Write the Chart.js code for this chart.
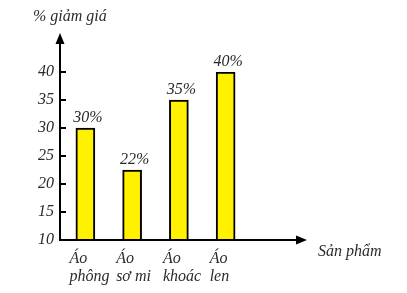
<!DOCTYPE html>
<html>
<head>
<meta charset="utf-8">
<script src="https://cdn.jsdelivr.net/npm/chart.js@4"></script>
<style>
  html, body { margin: 0; padding: 0; background: #fff; }
  #wrap { width: 407px; height: 293px; }
</style>
</head>
<body>
<div id="wrap"><canvas id="out"></canvas></div>
<script>
const categories = [["Áo", "phông"], ["Áo", "sơ mi"], ["Áo", "khoác"], ["Áo", "len"]];
const discount = [30, 22.5, 35, 40];
const discountLabels = ["30%", "22%", "35%", "40%"];
const yTicks = [10, 15, 20, 25, 30, 35, 40];

const textColor = "#2b2b2b";
const serif = "'Liberation Serif', 'DejaVu Serif', serif";

// axes with arrows, inner tick marks, bar value labels, x axis name
const axisArrows = {
	id: "axisArrows",
	afterDatasetsDraw(chart) {
		const ctx = chart.ctx;
		const area = chart.chartArea;
		const yScale = chart.scales.y;
		const ax = area.left - 2;
		const ay = yScale.getPixelForValue(yTicks[0]);
		const topY = area.top - 39;
		const rightX = area.right + 58;

		ctx.save();
		ctx.strokeStyle = "#000";
		ctx.fillStyle = "#000";
		ctx.lineWidth = 2;
		ctx.beginPath();
		ctx.moveTo(ax, ay);
		ctx.lineTo(ax, topY + 9);
		ctx.moveTo(ax - 1, ay);
		ctx.lineTo(rightX - 9, ay);
		ctx.stroke();

		ctx.beginPath();
		ctx.moveTo(ax, topY);
		ctx.lineTo(ax - 4.5, topY + 11);
		ctx.lineTo(ax + 4.5, topY + 11);
		ctx.closePath();
		ctx.fill();
		ctx.beginPath();
		ctx.moveTo(rightX, ay);
		ctx.lineTo(rightX - 11, ay - 4.5);
		ctx.lineTo(rightX - 11, ay + 4.5);
		ctx.closePath();
		ctx.fill();

		ctx.lineWidth = 2;
		yScale.ticks.forEach(t => {
			if (t.value === yTicks[0]) return;
			const y = yScale.getPixelForValue(t.value);
			ctx.beginPath();
			ctx.moveTo(ax, y);
			ctx.lineTo(ax + 6, y);
			ctx.stroke();
		});

		ctx.fillStyle = textColor;
		ctx.font = "italic 16px " + serif;
		ctx.textAlign = "center";
		ctx.textBaseline = "alphabetic";
		chart.getDatasetMeta(0).data.forEach((bar, i) => {
			ctx.fillText(discountLabels[i], bar.x + 2.5, bar.y - 6);
		});

		ctx.textAlign = "left";
		ctx.fillText("Sản phẩm", rightX + 11, ay + 16);
		ctx.restore();
	}
};

new Chart(document.getElementById("out").getContext("2d"), {
	type: "bar",
	data: {
		labels: categories,
		datasets: [{
			data: discount,
			backgroundColor: "#FFF100",
			borderColor: "#000",
			borderWidth: 2,
			borderSkipped: false,
			barThickness: 19
		}]
	},
	options: {
		responsive: true,
		maintainAspectRatio: false,
		animation: false,
		layout: { padding: { left: 33, right: 158, top: 0, bottom: 0 } },
		plugins: {
			legend: { display: false },
			tooltip: { enabled: false },
			title: {
				display: true,
				text: "% giảm giá",
				align: "start",
				color: textColor,
				font: { family: serif, size: 16, style: "italic", weight: "normal", lineHeight: 1.2 },
				padding: { top: 7, bottom: 45.8 }
			}
		},
		scales: {
			x: {
				grid: { display: false, drawTicks: false },
				border: { display: false },
				afterFit(s) { s.height = 53; },
				ticks: {
					autoSkip: false,
					maxRotation: 0,
					align: "start",
					labelOffset: -16,
					padding: 10,
					color: textColor,
					font: { family: serif, size: 16, style: "italic", lineHeight: "18px" }
				}
			},
			y: {
				min: 10,
				max: 40,
				grid: { display: false, drawTicks: false },
				border: { display: false },
				afterFit(s) { s.width = 29; },
				afterBuildTicks(s) { s.ticks = yTicks.map(v => ({ value: v })); },
				ticks: {
					padding: 8,
					color: textColor,
					font: { family: serif, size: 16, style: "italic" }
				}
			}
		}
	},
	plugins: [axisArrows]
});
</script>
</body>
</html>
